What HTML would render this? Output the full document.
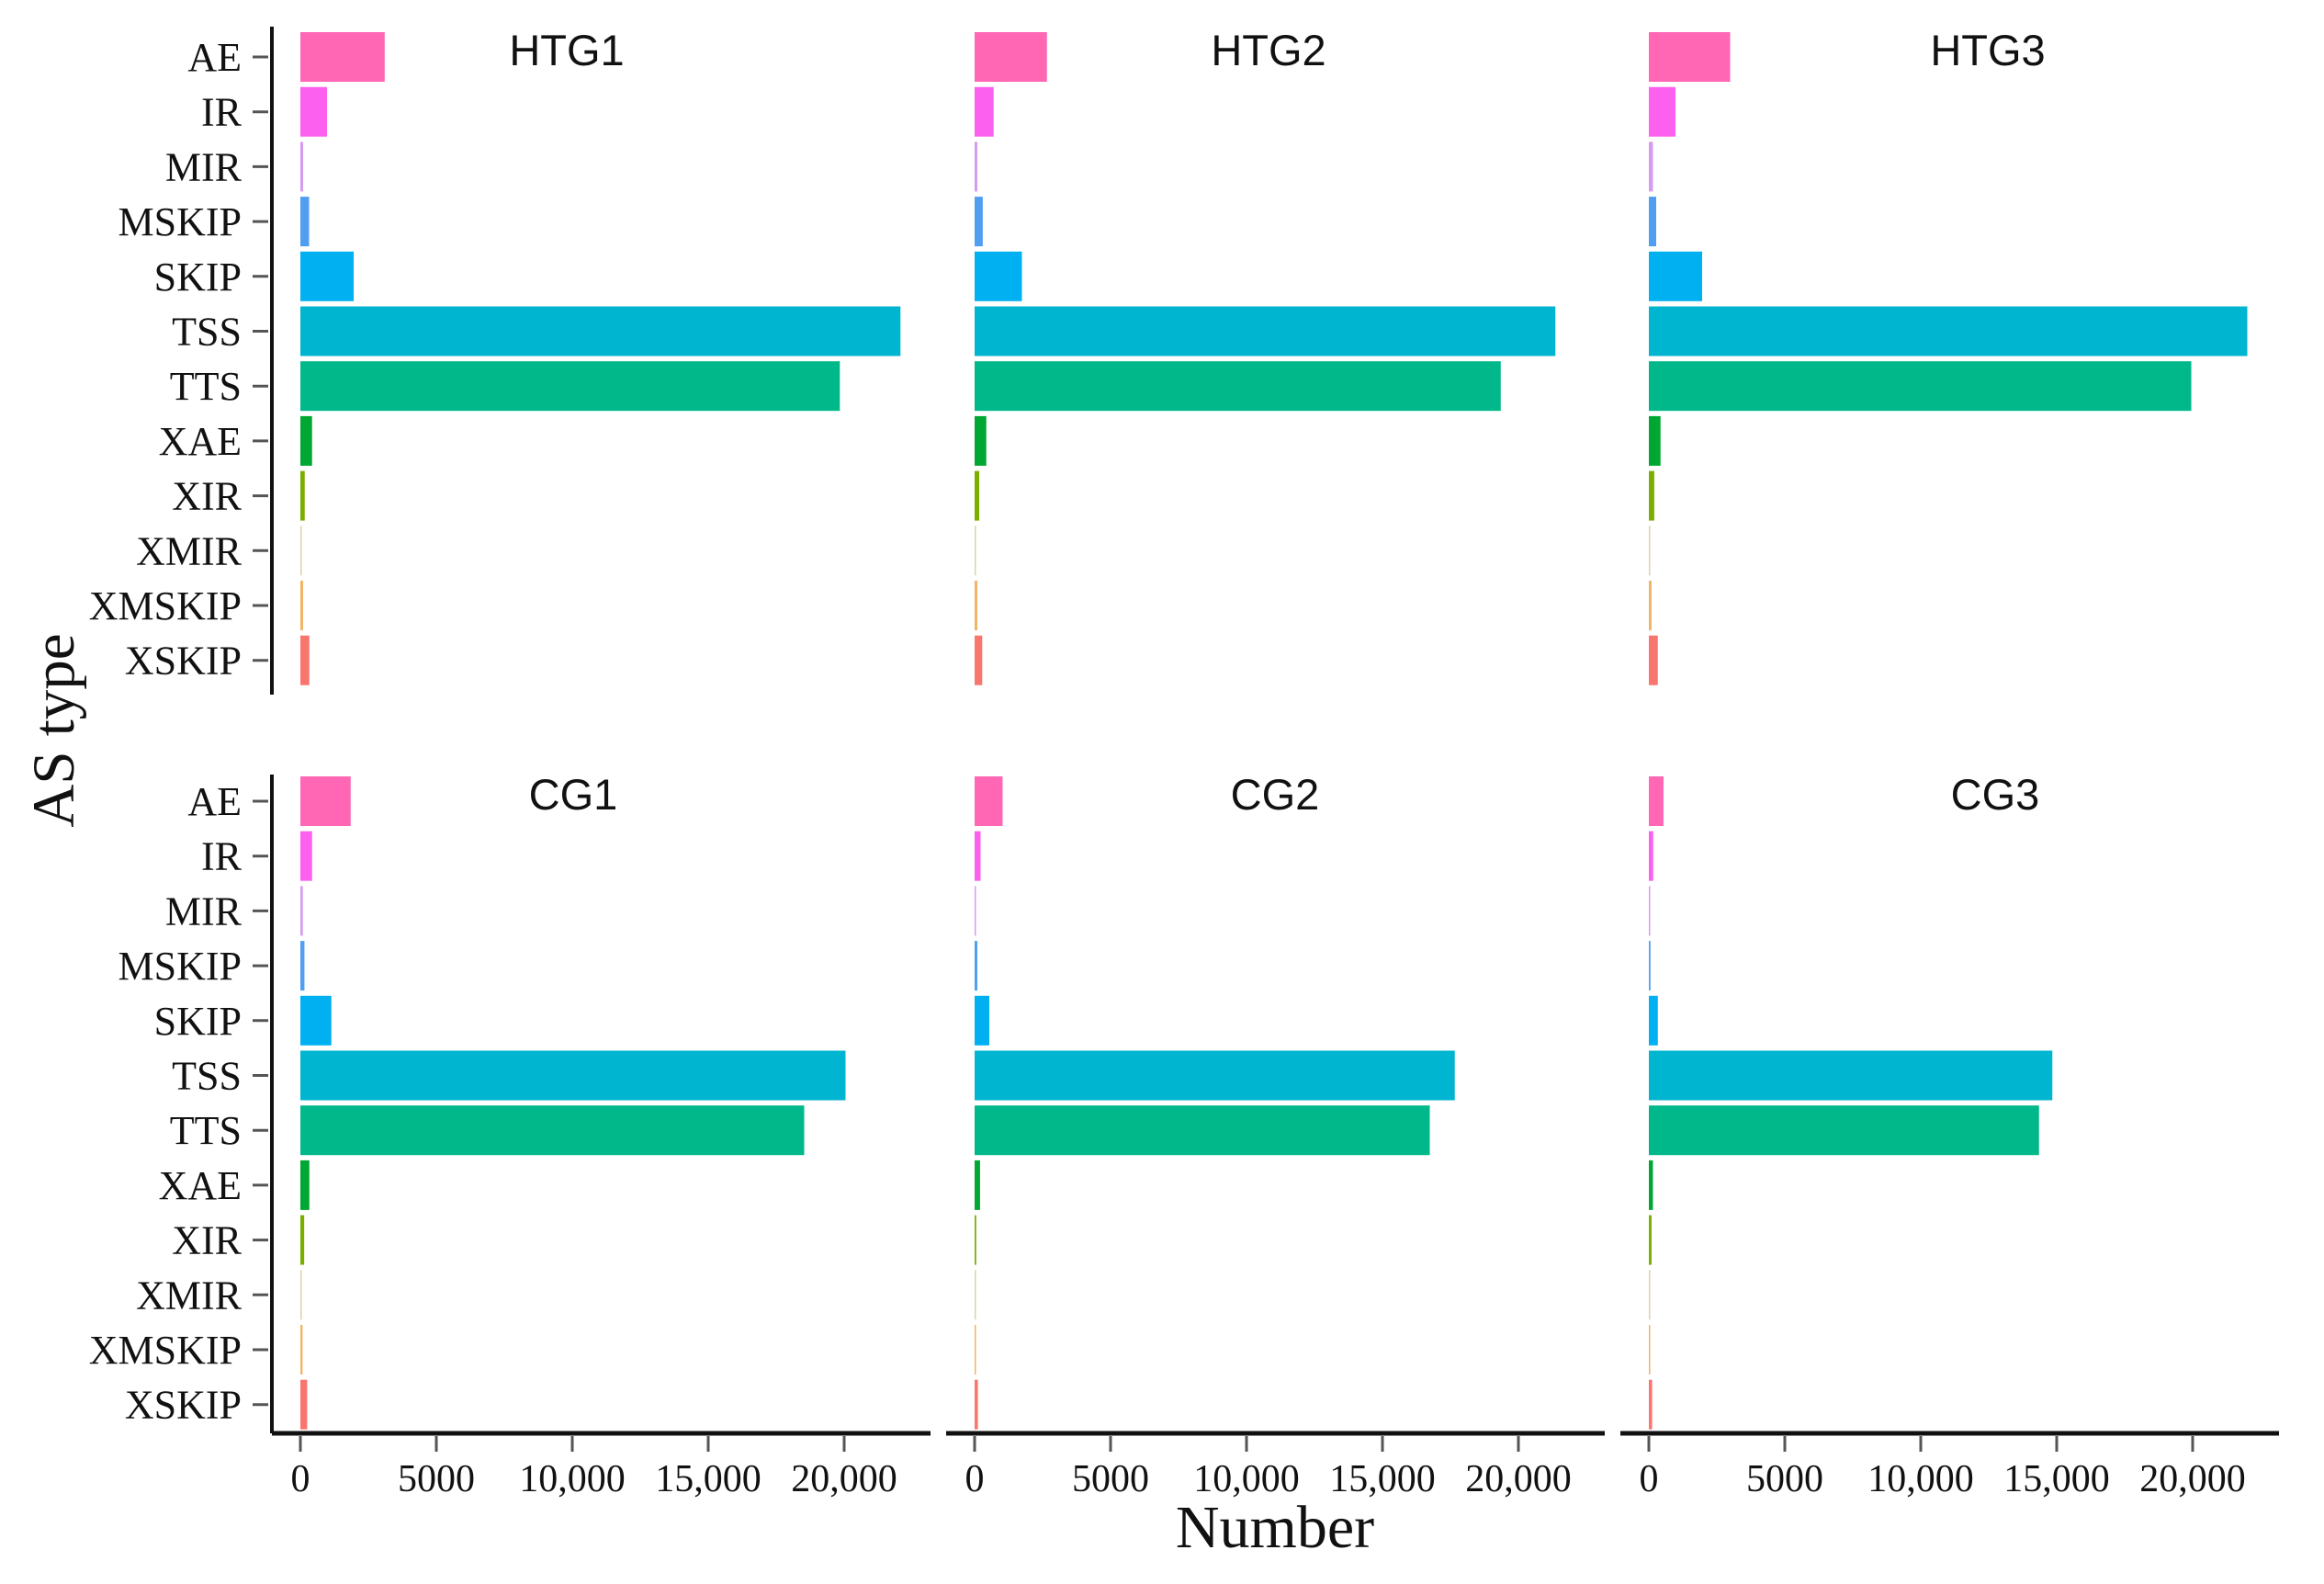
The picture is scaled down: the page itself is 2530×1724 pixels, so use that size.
<!DOCTYPE html>
<html><head><meta charset="utf-8">
<style>
html,body{margin:0;padding:0;background:#fff;}
svg{display:block;}
.cat{font-family:"Liberation Serif",serif;font-size:44px;fill:#111;}
.tick{font-family:"Liberation Serif",serif;font-size:42px;fill:#111;}
.ttl{font-family:"Liberation Sans",sans-serif;font-size:47px;fill:#111;}
</style></head>
<body>
<svg id="chart" width="2530" height="1724" viewBox="0 0 2530 1724" xmlns="http://www.w3.org/2000/svg">
<text x="0" y="0" transform="translate(80,795) rotate(-90)" text-anchor="middle" font-family="Liberation Serif, serif" font-size="65" fill="#111">AS type</text>
<text x="1388" y="1684" text-anchor="middle" font-family="Liberation Serif, serif" font-size="66" fill="#111">Number</text>
</svg>
<script>
const categories = ["AE","IR","MIR","MSKIP","SKIP","TSS","TTS","XAE","XIR","XMIR","XMSKIP","XSKIP"];
const panelNames = ["HTG1","HTG2","HTG3","CG1","CG2","CG3"];
const htg1 = [3100,980,100,320,1960,22070,19840,430,160,30,100,330];
const htg2 = [2660,700,100,300,1740,21360,19350,430,170,20,100,280];
const htg3 = [2990,980,150,270,1960,22010,19950,430,200,20,100,330];
const cg1 = [1850,430,90,150,1140,20050,18530,330,140,20,80,250];
const cg2 = [1030,220,30,100,540,17660,16740,200,60,10,40,120];
const cg3 = [540,160,20,60,330,14840,14350,150,100,10,40,120];
const tickValues = [0,5000,10000,15000,20000];
const tickLabels = ["0","5000","10,000","15,000","20,000"];

const colors = ["#ff66b3","#fb61ee","#d59bf0","#4f9ef2","#00b0f0","#00b5d0","#00b88a","#00a833","#7cae00","#dcd2a8","#f2b463","#f8766d"];
const titleX = [617,1381,2164,624,1388,2172];
const series = [htg1,htg2,htg3,cg1,cg2,cg3];
const svg = document.getElementById('chart');
const NS = "http://www.w3.org/2000/svg";
function mk(tag, attrs){const e=document.createElementNS(NS,tag);for(const k in attrs)e.setAttribute(k,attrs[k]);svg.appendChild(e);return e;}
const zeros = [327,1061,1795];
const rowTop = [62,872];
const rowSpacing = 59.7;
const pxPer = 148/5000;
function xScale(col,v){return zeros[col]+v*pxPer;}
function yScale(row,i){return rowTop[row]+i*rowSpacing;}

for(let p=0;p<6;p++){
  const col=p%3,row=Math.floor(p/3);
  const vals=series[p];
  vals.forEach((v,i)=>{
    const w=Math.max(1.5,xScale(col,v)-zeros[col]);
    const r=mk('rect',{x:zeros[col],y:yScale(row,i)-27,width:w,height:54,fill:colors[i]});
    
    
  });
  const t=mk('text',{x:titleX[p],y:rowTop[row]+9,'text-anchor':'middle',class:'ttl'});
  t.textContent=panelNames[p];
  
  
}
for(let row=0;row<2;row++){
  const top=row===0?29:843, bot=row===0?756:1560;
  const ax=mk('line',{x1:296,y1:top,x2:296,y2:bot,stroke:'#111','stroke-width':4});
  
  
  categories.forEach((c,i)=>{
    const y=yScale(row,i);
    const tk=mk('line',{x1:275,y1:y,x2:292,y2:y,stroke:'#555','stroke-width':3});
    
    
    const lb=mk('text',{x:263,y:y+15,'text-anchor':'end',class:'cat'});
    lb.textContent=c;
    
    
  });
}
for(let col=0;col<3;col++){
  const ax=mk('line',{x1:zeros[col]-31,y1:1560,x2:zeros[col]+686,y2:1560,stroke:'#111','stroke-width':5});
  
  
  tickValues.forEach((v,i)=>{
    const x=xScale(col,v);
    const tk=mk('line',{x1:x,y1:1563,x2:x,y2:1580,stroke:'#555','stroke-width':3});
    
    
    const lb=mk('text',{x:x,y:1623,'text-anchor':'middle',class:'tick'});
    lb.textContent=tickLabels[i];
    
    
  });
}
</script>
</body></html>
